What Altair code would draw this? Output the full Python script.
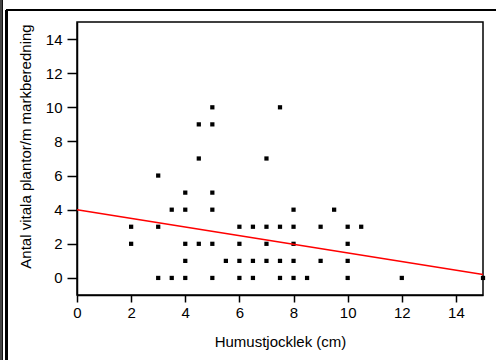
import altair as alt
import pandas as pd

# Scatter data
hum_x = [2, 2,
         3, 3, 3,
         3.5, 3.5,
         4, 4, 4, 4, 4,
         4.5, 4.5, 4.5,
         5, 5, 5, 5, 5, 5,
         5.5,
         6, 6, 6, 6,
         6.5, 6.5, 6.5,
         7, 7, 7, 7,
         7.5, 7.5, 7.5, 7.5,
         8, 8, 8, 8, 8,
         8.5,
         9, 9,
         9.5,
         10, 10, 10, 10,
         10.5,
         12,
         15]
plants_y = [3, 2,
            6, 3, 0,
            4, 0,
            5, 4, 2, 1, 0,
            9, 7, 2,
            10, 9, 5, 4, 2, 0,
            1,
            3, 2, 1, 0,
            3, 1, 0,
            7, 3, 2, 1,
            10, 3, 1, 0,
            4, 3, 2, 1, 0,
            0,
            3, 1,
            4,
            3, 2, 1, 0,
            3,
            0,
            0]

# Regression line endpoints
line_x = [0, 15]
line_y = [4.0, 0.2]

x_ticks = [0, 2, 4, 6, 8, 10, 12, 14]
y_ticks = [0, 2, 4, 6, 8, 10, 12, 14]

pts = pd.DataFrame({"x": hum_x, "y": plants_y})
ln = pd.DataFrame({"x": line_x, "y": line_y})

FONT = "Liberation Sans"

xscale = alt.Scale(domain=[0, 15], nice=False, zero=False)
yscale = alt.Scale(domain=[-1, 15], nice=False, zero=False)

xaxis = alt.Axis(values=x_ticks, title="Humustjocklek (cm)", grid=False,
                 tickSize=7, tickColor="black", tickWidth=1.5,
                 domainColor="black", domainWidth=1.5,
                 labelFontSize=15, labelColor="black", labelFont=FONT,
                 labelPadding=3, labelFlush=False, labelOverlap=False,
                 titleFontSize=15, titleFontWeight="normal", titleColor="black",
                 titleFont=FONT, titlePadding=14)
yaxis = alt.Axis(values=y_ticks, title="Antal vitala plantor/m markberedning",
                 grid=False, tickSize=10, tickColor="black", tickWidth=1.5,
                 domainColor="black", domainWidth=1.5,
                 labelFontSize=15, labelColor="black", labelFont=FONT,
                 labelPadding=5, labelFlush=False, labelOverlap=False,
                 titleFontSize=15, titleFontWeight="normal", titleColor="black",
                 titleFont=FONT, titlePadding=12, titleY=124)

points = alt.Chart(pts).mark_square(size=18, color="black", opacity=1).encode(
    x=alt.X("x:Q", scale=xscale, axis=xaxis),
    y=alt.Y("y:Q", scale=yscale, axis=yaxis),
)

reg = alt.Chart(ln).mark_line(color="#ff0000", strokeWidth=1.5).encode(
    x=alt.X("x:Q", scale=xscale, axis=xaxis),
    y=alt.Y("y:Q", scale=yscale, axis=yaxis),
)

# Decorative window frame around the figure (outside the plot area)
frame_v1 = alt.Chart(pts).mark_rule(color="#444444", strokeWidth=1).encode(
    x=alt.value(-76), y=alt.value(-22), y2=alt.value(338))
frame_v2 = alt.Chart(pts).mark_rule(color="#111111", strokeWidth=1).encode(
    x=alt.value(-74.5), y=alt.value(-22), y2=alt.value(338))
frame_v3 = alt.Chart(pts).mark_rule(color="black", strokeWidth=1.5).encode(
    x=alt.value(-70.5), y=alt.value(-12), y2=alt.value(338))
frame_h = alt.Chart(pts).mark_rule(color="black", strokeWidth=1.5).encode(
    y=alt.value(-12), x=alt.value(-70.5), x2=alt.value(419))

chart = alt.layer(points, reg, frame_v1, frame_v2, frame_v3, frame_h).properties(
    width=406, height=273,
    autosize=alt.AutoSizeParams(type="none"),
    padding={"left": 77, "top": 22, "right": 14, "bottom": 65},
    background="white",
).configure_view(stroke="black", strokeWidth=1.5)

chart.save("out.html", embed_options={"renderer": "svg", "actions": False})
